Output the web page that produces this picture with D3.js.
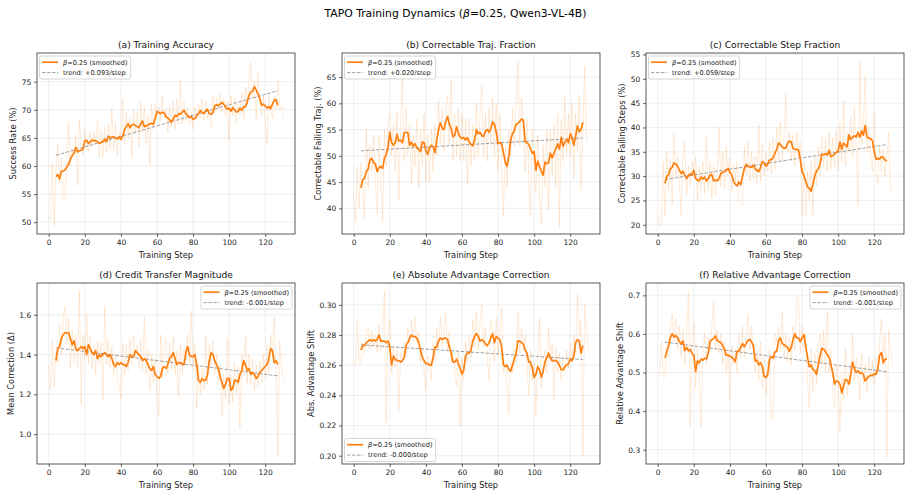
<!DOCTYPE html>
<html><head><meta charset="utf-8">
<script src="https://cdn.jsdelivr.net/npm/d3@7/dist/d3.min.js"></script>
<style>body{margin:0;background:#fff} svg{display:block;font-family:"DejaVu Sans",sans-serif}</style>
</head><body><svg id="chart" width="911" height="496"></svg>
<script>
// ---------------- DATA ----------------
const rawStartStep = 0;      // raw series: steps 0..130
const smoothStartStep = 4;   // smoothed series: steps 4..127
const trendSteps = [4, 127];
const xTicks = [0, 20, 40, 60, 80, 100, 120];

const accRaw = [50.8,50.5,60.4,49.2,59.5,64.0,57.0,61.5,54.0,53.8,
61.5,67.6,60.0,63.0,62.0,65.5,56.5,68.3,63.0,62.0,
66.5,64.0,62.5,66.0,63.5,66.0,64.0,68.0,61.5,66.5,
61.5,67.0,62.5,67.5,63.0,70.3,63.0,67.5,62.0,66.0,
65.0,72.0,64.0,69.5,65.0,68.5,61.5,70.0,66.0,69.5,
63.5,71.5,66.0,70.5,64.0,69.0,60.2,71.0,66.5,71.0,
69.0,70.5,68.0,72.5,68.5,70.0,66.0,70.5,67.0,71.5,
66.5,72.0,67.5,75.5,67.5,71.5,68.0,70.5,67.5,69.5,
66.5,70.5,68.0,71.0,68.5,72.0,68.0,71.5,68.5,70.0,
67.0,72.5,69.5,72.0,70.0,73.0,69.5,72.0,69.0,71.5,
64.5,72.5,69.0,72.0,67.5,71.0,69.0,73.0,68.5,74.0,
71.0,75.5,78.5,72.0,75.0,68.3,76.5,71.5,69.0,72.5,
68.0,64.0,73.0,70.0,68.5,72.5,70.0,75.5,70.0,70.5,
68.8];
const accSmooth = [58.1,58.5,57.7,59.0,59.1,59.3,59.8,60.3,61.3,61.8,
62.3,63.3,62.5,62.7,62.8,63.0,64.5,64.6,64.0,64.3,
64.6,64.5,64.5,64.3,64.0,64.2,64.3,64.8,64.3,65.3,
65.0,65.1,65.2,65.0,64.8,65.2,64.7,65.3,66.5,67.0,
67.5,66.8,67.3,67.4,67.2,67.0,66.8,67.5,68.0,67.0,
67.1,67.3,67.5,67.6,67.4,68.5,69.7,69.5,69.3,69.6,
69.4,68.8,68.5,68.2,67.8,68.3,69.0,68.8,69.3,69.2,
69.6,69.9,69.3,69.0,68.6,68.8,68.3,68.5,68.9,69.3,
69.9,69.5,69.3,69.8,70.1,69.3,69.2,69.5,70.7,70.9,
70.7,71.0,71.3,71.0,70.5,70.1,70.3,69.7,70.4,70.0,
69.6,69.7,70.3,69.9,70.5,70.5,71.4,72.5,73.2,73.3,
74.1,73.5,72.8,72.0,70.8,71.0,70.7,70.3,70.6,70.2,
71.0,71.7,71.8,70.8];
const accTrend = [61.9, 73.4];

const trajRaw = [43.0,37.5,48.0,40.0,48.7,44.0,38.0,55.0,44.0,52.0,
47.0,54.0,45.0,39.0,54.0,46.0,37.5,55.0,48.0,57.0,
58.0,50.0,56.0,47.0,58.5,41.5,56.0,65.0,49.0,59.0,
50.0,56.0,44.5,54.0,48.0,57.0,44.0,55.0,48.0,58.0,
45.0,54.0,45.0,55.0,47.0,56.0,50.0,60.5,52.0,59.0,
51.0,60.0,61.5,52.0,64.5,49.0,58.0,50.0,59.0,49.0,
58.0,49.0,57.0,44.5,57.0,48.0,56.0,49.0,60.0,50.0,
58.0,63.5,50.0,58.0,49.0,59.0,52.0,61.0,50.0,60.0,
47.0,58.0,47.0,38.5,52.0,44.0,55.0,50.0,59.0,52.0,
60.0,68.0,52.0,61.0,55.0,47.0,57.0,46.0,38.5,55.0,
48.0,43.0,54.0,42.0,37.0,52.0,44.0,55.0,39.5,55.0,
46.0,56.0,44.0,58.0,36.5,57.0,49.0,61.5,50.0,58.0,
50.0,60.0,45.5,58.0,51.0,61.5,43.5,55.0,67.0,53.0,
53.5];
const trajSmooth = [43.9,45.5,45.7,47.0,47.5,49.3,49.5,48.7,48.5,47.0,
47.8,48.0,47.6,49.5,50.3,51.5,54.5,52.5,52.0,52.5,
54.1,52.8,53.0,52.5,54.4,54.5,54.4,52.0,52.6,51.8,
52.3,51.5,51.2,50.8,52.6,52.5,51.0,50.3,51.5,52.0,
51.8,50.6,53.0,55.0,56.3,55.3,55.0,56.5,57.5,56.0,
55.2,53.6,54.0,55.5,54.3,53.6,53.3,53.5,53.0,53.5,
52.6,52.2,51.9,53.0,55.0,54.2,54.5,53.8,53.7,54.7,
55.0,54.5,55.2,56.5,56.0,54.5,52.3,52.5,52.3,50.5,
48.8,48.0,50.0,53.0,54.2,54.8,56.0,56.2,56.5,57.0,
56.8,52.7,52.5,52.2,51.3,50.5,50.8,47.2,49.0,48.0,
47.0,46.3,48.8,48.5,48.7,50.5,49.6,50.5,51.3,52.3,
51.3,53.5,51.8,52.5,53.2,52.5,54.2,53.5,52.0,53.8,
55.7,54.6,55.0,56.4];
const trajTrend = [50.95, 53.4];

const stepRaw = [22.0,19.7,20.0,33.0,22.0,35.0,27.0,33.5,24.0,38.8,
30.0,34.0,29.0,22.0,34.0,37.0,26.0,32.0,28.0,33.0,
30.5,34.0,25.0,32.0,27.0,33.0,26.5,38.0,27.0,33.0,
25.5,32.0,26.0,31.0,40.0,28.0,35.0,27.5,36.0,30.0,
34.0,27.0,32.5,29.0,33.0,24.5,24.5,24.0,36.0,30.0,
37.0,29.0,35.0,29.5,34.0,28.5,40.5,29.0,36.5,30.0,
35.0,31.0,37.0,30.5,38.0,31.5,40.0,33.0,41.0,33.0,
38.5,47.0,35.0,39.0,33.0,38.5,32.0,39.0,34.0,37.0,
21.8,33.0,22.0,31.0,25.0,33.0,22.0,34.0,28.0,36.0,
30.0,38.0,32.0,37.5,31.0,39.0,31.5,38.0,32.0,39.5,
31.0,41.0,33.0,45.5,32.0,39.0,35.0,42.0,34.0,44.0,
36.0,24.0,53.5,36.0,41.0,50.5,35.0,40.0,34.0,31.0,
43.0,31.0,28.5,36.0,31.0,35.5,30.0,34.0,39.0,27.0,
27.0];
const stepSmooth = [28.5,30.0,30.3,31.5,31.8,32.7,32.5,32.0,31.3,30.5,
31.0,30.2,29.5,30.0,30.5,30.2,31.2,29.5,29.2,29.0,
29.8,29.4,29.8,29.0,29.5,30.2,30.3,29.0,29.2,29.0,
29.5,30.5,30.8,30.9,31.2,31.6,30.8,30.3,29.0,28.3,
28.0,28.8,28.2,30.0,31.5,32.4,32.0,31.9,31.8,32.3,
31.5,31.2,30.9,31.8,33.0,32.7,32.0,32.5,33.3,33.4,
33.8,34.7,35.5,36.8,36.5,36.0,35.7,35.8,36.8,37.2,
37.0,35.7,35.5,35.5,35.4,33.5,30.8,30.2,29.0,27.8,
27.5,26.9,28.3,30.0,31.0,31.5,32.5,34.5,34.4,34.6,
34.3,35.3,34.0,34.2,34.5,34.9,35.2,37.0,35.5,36.8,
36.4,36.0,38.5,37.5,38.0,38.3,38.0,39.0,38.0,39.3,
38.4,40.4,38.0,37.8,37.7,37.3,35.0,33.5,33.6,33.5,
34.0,33.8,33.3,33.1];
const stepTrend = [29.3, 36.5];

const creditRaw = [1.35,1.22,1.47,1.24,1.42,1.36,1.55,1.40,1.59,1.64,
1.45,1.58,1.33,1.52,1.36,1.50,1.33,1.72,1.15,1.50,
1.38,1.60,1.35,1.50,1.33,1.45,1.30,1.47,1.36,1.46,
1.17,1.64,1.35,1.48,1.33,1.44,1.30,1.40,1.28,1.24,
1.18,1.46,1.30,1.45,1.32,1.48,1.35,1.50,1.38,1.45,
1.33,1.47,1.32,1.59,1.30,1.42,1.22,1.40,1.26,1.38,
1.20,1.09,1.50,1.28,1.45,1.48,1.30,1.46,1.32,1.49,
1.30,1.42,1.19,1.45,1.30,1.43,1.38,1.50,1.36,1.62,
1.33,1.45,1.13,1.35,1.20,1.33,1.22,1.49,1.25,1.45,
1.35,1.47,1.30,1.40,1.26,1.35,1.09,1.30,1.18,1.48,
1.15,1.30,1.16,1.36,1.20,1.34,1.03,1.40,1.30,1.49,
1.25,1.40,1.25,1.38,1.22,1.35,1.24,1.37,1.26,1.40,
1.28,1.45,1.30,1.50,1.38,1.59,1.30,0.89,1.47,1.35,
1.27];
const creditSmooth = [1.37,1.43,1.44,1.48,1.50,1.51,1.51,1.51,1.48,1.45,
1.47,1.43,1.42,1.43,1.44,1.43,1.44,1.40,1.45,1.43,
1.41,1.40,1.42,1.38,1.40,1.39,1.40,1.41,1.40,1.39,
1.40,1.38,1.35,1.34,1.36,1.35,1.36,1.35,1.35,1.34,
1.36,1.40,1.39,1.39,1.42,1.41,1.40,1.39,1.37,1.38,
1.37,1.35,1.33,1.32,1.34,1.30,1.29,1.28,1.29,1.33,
1.34,1.33,1.35,1.38,1.39,1.41,1.38,1.35,1.36,1.36,
1.35,1.35,1.41,1.44,1.40,1.39,1.39,1.40,1.35,1.27,
1.26,1.28,1.27,1.27,1.30,1.37,1.41,1.40,1.37,1.35,
1.33,1.29,1.26,1.23,1.25,1.28,1.28,1.22,1.23,1.27,
1.27,1.26,1.30,1.32,1.37,1.35,1.32,1.33,1.30,1.31,
1.30,1.28,1.29,1.31,1.32,1.33,1.34,1.35,1.38,1.43,
1.42,1.36,1.37,1.35];
const creditTrend = [1.434, 1.293];

const absRaw = [.262,.260,.289,.261,.261,.275,.268,.282,.285,.270,
.283,.272,.280,.268,.288,.270,.282,.309,.222,.285,
.290,.255,.272,.258,.270,.230,.268,.262,.275,.268,
.285,.272,.290,.276,.292,.275,.282,.262,.272,.255,
.244,.266,.262,.250,.275,.262,.285,.270,.292,.272,
.286,.295,.270,.282,.262,.270,.255,.246,.270,.219,
.265,.250,.275,.262,.280,.265,.290,.272,.295,.270,
.288,.300,.272,.285,.265,.250,.290,.285,.262,.292,
.268,.285,.298,.255,.262,.245,.228,.262,.255,.270,
.262,.295,.268,.285,.270,.280,.258,.240,.270,.250,
.262,.226,.268,.291,.245,.260,.270,.255,.285,.262,
.275,.237,.272,.255,.268,.250,.265,.255,.270,.258,
.275,.262,.280,.268,.307,.280,.290,.200,.300,.285,
.270];
const absSmooth = [.270,.273,.273,.275,.276,.277,.276,.277,.276,.277,
.280,.276,.276,.276,.275,.276,.272,.260,.266,.264,
.263,.263,.262,.263,.265,.273,.275,.278,.280,.279,
.279,.278,.275,.270,.265,.263,.261,.261,.260,.260,
.265,.272,.272,.276,.278,.277,.278,.278,.277,.272,
.268,.262,.262,.264,.261,.258,.254,.257,.266,.268,
.268,.270,.276,.279,.281,.279,.276,.277,.276,.274,
.273,.275,.278,.281,.275,.279,.278,.277,.272,.260,
.259,.260,.257,.256,.260,.264,.268,.276,.276,.275,
.274,.270,.268,.262,.262,.258,.252,.254,.259,.257,
.252,.256,.262,.265,.268,.265,.263,.263,.263,.262,
.260,.257,.257,.259,.260,.261,.264,.263,.266,.275,
.277,.276,.268,.273];
const absTrend = [0.2735, 0.2638];

const relRaw = [.495,.490,.580,.490,.488,.560,.540,.620,.650,.580,
.640,.560,.620,.540,.610,.520,.600,.710,.360,.590,
.630,.460,.560,.500,.360,.550,.600,.520,.590,.560,
.620,.685,.560,.610,.550,.600,.520,.580,.500,.560,
.430,.570,.520,.560,.500,.600,.540,.620,.540,.600,
.650,.560,.620,.540,.500,.560,.480,.580,.460,.540,
.440,.530,.560,.380,.380,.600,.580,.620,.560,.660,
.540,.600,.530,.590,.520,.620,.560,.695,.690,.550,
.620,.560,.600,.480,.410,.560,.450,.550,.470,.580,
.600,.520,.610,.500,.660,.500,.560,.450,.410,.520,
.470,.350,.500,.430,.560,.440,.500,.470,.600,.480,
.540,.500,.430,.550,.470,.520,.450,.540,.480,.530,
.470,.540,.500,.580,.640,.520,.600,.280,.610,.560,
.515];
const relSmooth = [.538,.555,.570,.590,.601,.592,.596,.590,.580,.575,
.582,.557,.565,.556,.560,.550,.545,.503,.530,.525,
.535,.532,.537,.535,.550,.580,.585,.588,.595,.583,
.580,.578,.570,.560,.545,.545,.542,.540,.535,.528,
.555,.556,.565,.575,.567,.575,.583,.586,.580,.570,
.530,.532,.520,.525,.515,.490,.487,.495,.535,.540,
.538,.553,.555,.583,.590,.575,.572,.568,.565,.555,
.565,.585,.600,.590,.590,.580,.590,.598,.570,.540,
.515,.520,.508,.505,.495,.520,.545,.563,.560,.555,
.545,.540,.520,.500,.470,.478,.477,.470,.447,.465,
.482,.480,.470,.495,.527,.510,.500,.505,.498,.500,
.495,.478,.485,.490,.493,.492,.497,.495,.510,.545,
.552,.525,.535,.535];
const relTrend = [0.579, 0.502];

const titles = ["(a) Training Accuracy","(b) Correctable Traj. Fraction","(c) Correctable Step Fraction",
  "(d) Credit Transfer Magnitude","(e) Absolute Advantage Correction","(f) Relative Advantage Correction"];
const yLabels = ["Success Rate (%)","Correctable Failing Traj. (%)","Correctable Failing Steps (%)",
  "Mean Correction (\u0394)","Abs. Advantage Shift","Relative Advantage Shift"];
const trendLabels = ["+0.093","+0.020","+0.059","-0.001","-0.000","-0.001"];
const yTickSets = [[50,55,60,65,70,75],[40,45,50,55,60,65],[20,25,30,35,40,45,50,55],
  [1.0,1.2,1.4,1.6],[0.20,0.22,0.24,0.26,0.28,0.30],[0.3,0.4,0.5,0.6,0.7]];
const yTickFormats = ["d","d","d",".1f",".2f",".1f"];
const yDomains = [[47.9,80.1],[35.1,69.6],[18.1,55.3],[0.85,1.76],[0.1945,0.3145],[0.263,0.732]];
const rawSeries = [accRaw, trajRaw, stepRaw, creditRaw, absRaw, relRaw];
const smoothSeries = [accSmooth, trajSmooth, stepSmooth, creditSmooth, absSmooth, relSmooth];
const trendSeries = [accTrend, trajTrend, stepTrend, creditTrend, absTrend, relTrend];
const legendPos = ["ul","ul","ul","ur","ll","ur"];

// ---------------- LAYOUT / STYLE ----------------
const xDomain = [-6.5, 136.5];
const colLeft = [37, 342, 646], axW = 258;
const rowTop = [53, 283], axH = 181;
const ORANGE = "#ff7f0e";
const fTick = 7.5, fLabel = 8.3, fTitle = 9.1, fSup = 10.8, fLeg = 6.6;

const svg = d3.select("#chart");
const sup = svg.append("text").attr("x", 455.5).attr("y", 16.5).attr("text-anchor","middle")
  .attr("font-size", fSup).attr("fill","#000");
sup.append("tspan").text("TAPO Training Dynamics (");
sup.append("tspan").attr("font-style","italic").text("\u03B2");
sup.append("tspan").text("=0.25, Qwen3-VL-4B)");

titles.forEach((title, i) => {
  const left = colLeft[i % 3], top = rowTop[Math.floor(i / 3)];
  const x = d3.scaleLinear().domain(xDomain).range([left, left + axW]);
  const y = d3.scaleLinear().domain(yDomains[i]).range([top + axH, top]);
  const g = svg.append("g");
  const cid = "clip" + i;
  svg.append("clipPath").attr("id", cid).append("rect")
    .attr("x", left).attr("y", top).attr("width", axW).attr("height", axH);

  // grid
  const grid = g.append("g").attr("stroke", "#b0b0b0").attr("stroke-opacity", 0.3).attr("stroke-width", 0.7);
  grid.selectAll(".gx").data(xTicks).join("line").attr("x1", d => x(d)).attr("x2", d => x(d))
    .attr("y1", top).attr("y2", top + axH);
  grid.selectAll(".gy").data(yTickSets[i]).join("line").attr("y1", d => y(d)).attr("y2", d => y(d))
    .attr("x1", left).attr("x2", left + axW);

  const line = d3.line().x(d => x(d[0])).y(d => y(d[1]));
  const rawPts = rawSeries[i].map((v, k) => [rawStartStep + k, v]);
  const smPts = smoothSeries[i].map((v, k) => [smoothStartStep + k, v]);
  const trPts = trendSteps.map((s, k) => [s, trendSeries[i][k]]);
  const plot = g.append("g").attr("clip-path", `url(#${cid})`);
  plot.append("path").attr("d", line(rawPts)).attr("fill", "none").attr("stroke", ORANGE)
    .attr("stroke-opacity", 0.2).attr("stroke-width", 0.8);
  plot.append("path").attr("d", line(trPts)).attr("fill", "none").attr("stroke", "#808080")
    .attr("stroke-opacity", 0.75).attr("stroke-width", 1).attr("stroke-dasharray", "3.4,1.6");
  plot.append("path").attr("d", line(smPts)).attr("fill", "none").attr("stroke", ORANGE)
    .attr("stroke-width", 1.7).attr("stroke-linejoin", "round");

  // frame
  g.append("rect").attr("x", left).attr("y", top).attr("width", axW).attr("height", axH)
    .attr("fill", "none").attr("stroke", "#333").attr("stroke-width", 0.8);

  // axes
  const ax = g.append("g").attr("transform", `translate(0,${top + axH})`)
    .call(d3.axisBottom(x).tickValues(xTicks).tickSize(2.9).tickPadding(2.9).tickFormat(d3.format("d")));
  const ay = g.append("g").attr("transform", `translate(${left},0)`)
    .call(d3.axisLeft(y).tickValues(yTickSets[i]).tickSize(2.9).tickPadding(2.9).tickFormat(d3.format(yTickFormats[i])));
  [ax, ay].forEach(a => {
    a.select(".domain").remove();
    a.selectAll("line").attr("stroke", "#333").attr("stroke-width", 0.8);
    a.selectAll("text").attr("font-size", fTick).attr("fill", "#222").attr("font-family", "DejaVu Sans, sans-serif");
  });

  // labels
  g.append("text").attr("x", left + axW / 2).attr("y", top + axH + 24.2).attr("text-anchor", "middle")
    .attr("font-size", fLabel).attr("fill", "#222").text("Training Step");
  const bb = ay.node().getBBox();
  const lx = left + bb.x - 5.3, ly = top + axH / 2;
  g.append("text").attr("transform", `translate(${lx},${ly}) rotate(-90)`).attr("text-anchor", "middle")
    .attr("font-size", fLabel).attr("fill", "#222").text(yLabels[i]);
  g.append("text").attr("x", left + axW / 2).attr("y", top - 5.3).attr("text-anchor", "middle")
    .attr("font-size", fTitle).attr("fill", "#111").text(title);

  // legend
  const lg = g.append("g");
  const box = lg.append("rect").attr("fill", "#fff").attr("fill-opacity", 0.8)
    .attr("stroke", "#cccccc").attr("stroke-width", 0.8).attr("rx", 2);
  const t1 = lg.append("text").attr("x", 23.5).attr("y", 6.2).attr("dy", "0.35em").attr("font-size", fLeg).attr("fill", "#222");
  t1.append("tspan").attr("font-style", "italic").text("\u03B2");
  t1.append("tspan").text("=0.25 (smoothed)");
  const t2 = lg.append("text").attr("x", 23.5).attr("y", 16.6).attr("dy", "0.35em").attr("font-size", fLeg).attr("fill", "#222")
    .text(`trend: ${trendLabels[i]}/step`);
  lg.append("line").attr("x1", 2.6).attr("x2", 18.5).attr("y1", 6.2).attr("y2", 6.2)
    .attr("stroke", ORANGE).attr("stroke-width", 1.7);
  lg.append("line").attr("x1", 2.6).attr("x2", 18.5).attr("y1", 16.6).attr("y2", 16.6)
    .attr("stroke", "#808080").attr("stroke-opacity", 0.75).attr("stroke-width", 1).attr("stroke-dasharray", "3.4,1.6");
  const tw = Math.max(t1.node().getComputedTextLength(), t2.node().getComputedTextLength());
  const bw = 23.5 + tw + 3, bh = 23;
  box.attr("width", bw).attr("height", bh);
  let lxp, lyp;
  if (legendPos[i] === "ul") { lxp = left + 2.5; lyp = top + 3; }
  else if (legendPos[i] === "ur") { lxp = left + axW - 3 - bw; lyp = top + 3; }
  else { lxp = left + 2.5; lyp = top + axH - 2.5 - bh; }
  lg.attr("transform", `translate(${lxp},${lyp})`);
});
</script>
</body></html>
